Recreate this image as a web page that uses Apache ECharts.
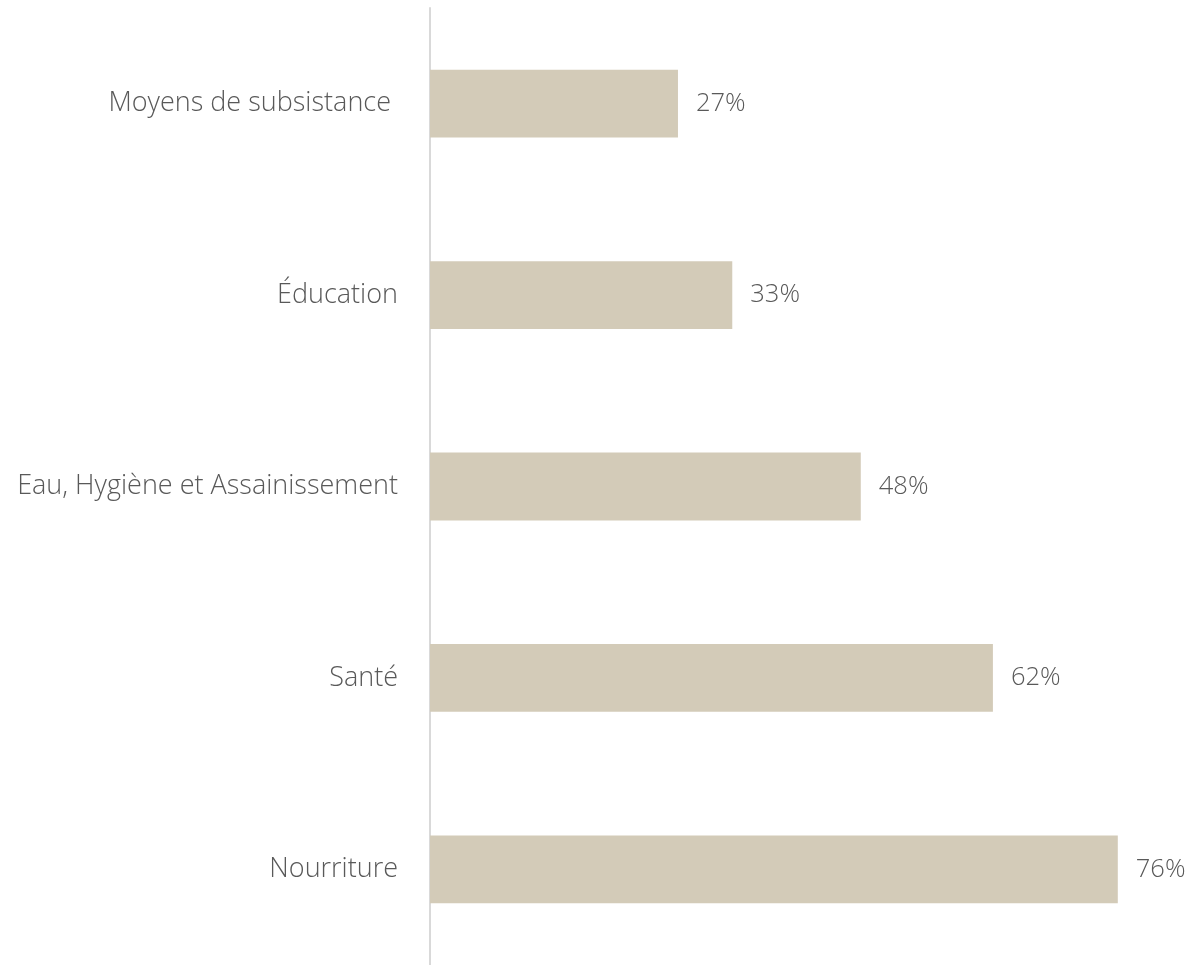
<!DOCTYPE html>
<html>
<head>
<meta charset="utf-8">
<script src="https://cdn.jsdelivr.net/npm/echarts@6/dist/echarts.min.js"></script>
<style>
  html, body { margin: 0; padding: 0; background: #fff; }
  #chart { width: 1186px; height: 965px; }
</style>
</head>
<body>
<div id="chart"></div>
<script>
var categories = ['Moyens de subsistance ', 'Éducation', 'Eau, Hygiène et Assainissement', 'Santé', 'Nourriture'];
var values = [27.4, 33.4, 47.6, 62.2, 76];

var myChart = echarts.init(document.getElementById('chart'));

var option = {
    animation: false,
    grid: {
        left: 430,
        right: 32,
        top: 8,
        bottom: -3
    },
    xAxis: {
        type: 'value',
        min: 0,
        max: 80,
        show: false
    },
    yAxis: {
        type: 'category',
        inverse: true,
        data: categories,
        axisLine: { lineStyle: { color: '#d9d9d9', width: 2 } },
        axisTick: { show: false },
        axisLabel: {
            margin: 32,
            color: '#595959',
            fontFamily: 'Open Sans',
            fontWeight: 300,
            fontSize: 27
        }
    },
    series: [{
        type: 'bar',
        data: values,
        barWidth: '35.4%',
        itemStyle: { color: '#d3cbb8' },
        label: {
            show: true,
            position: 'right',
            distance: 18,
            color: '#595959',
            fontFamily: 'Open Sans',
            fontWeight: 300,
            fontSize: 25.5,
            formatter: function (p) { return Math.round(p.value) + '%'; }
        }
    }]
};

myChart.setOption(option);
</script>
</body>
</html>
